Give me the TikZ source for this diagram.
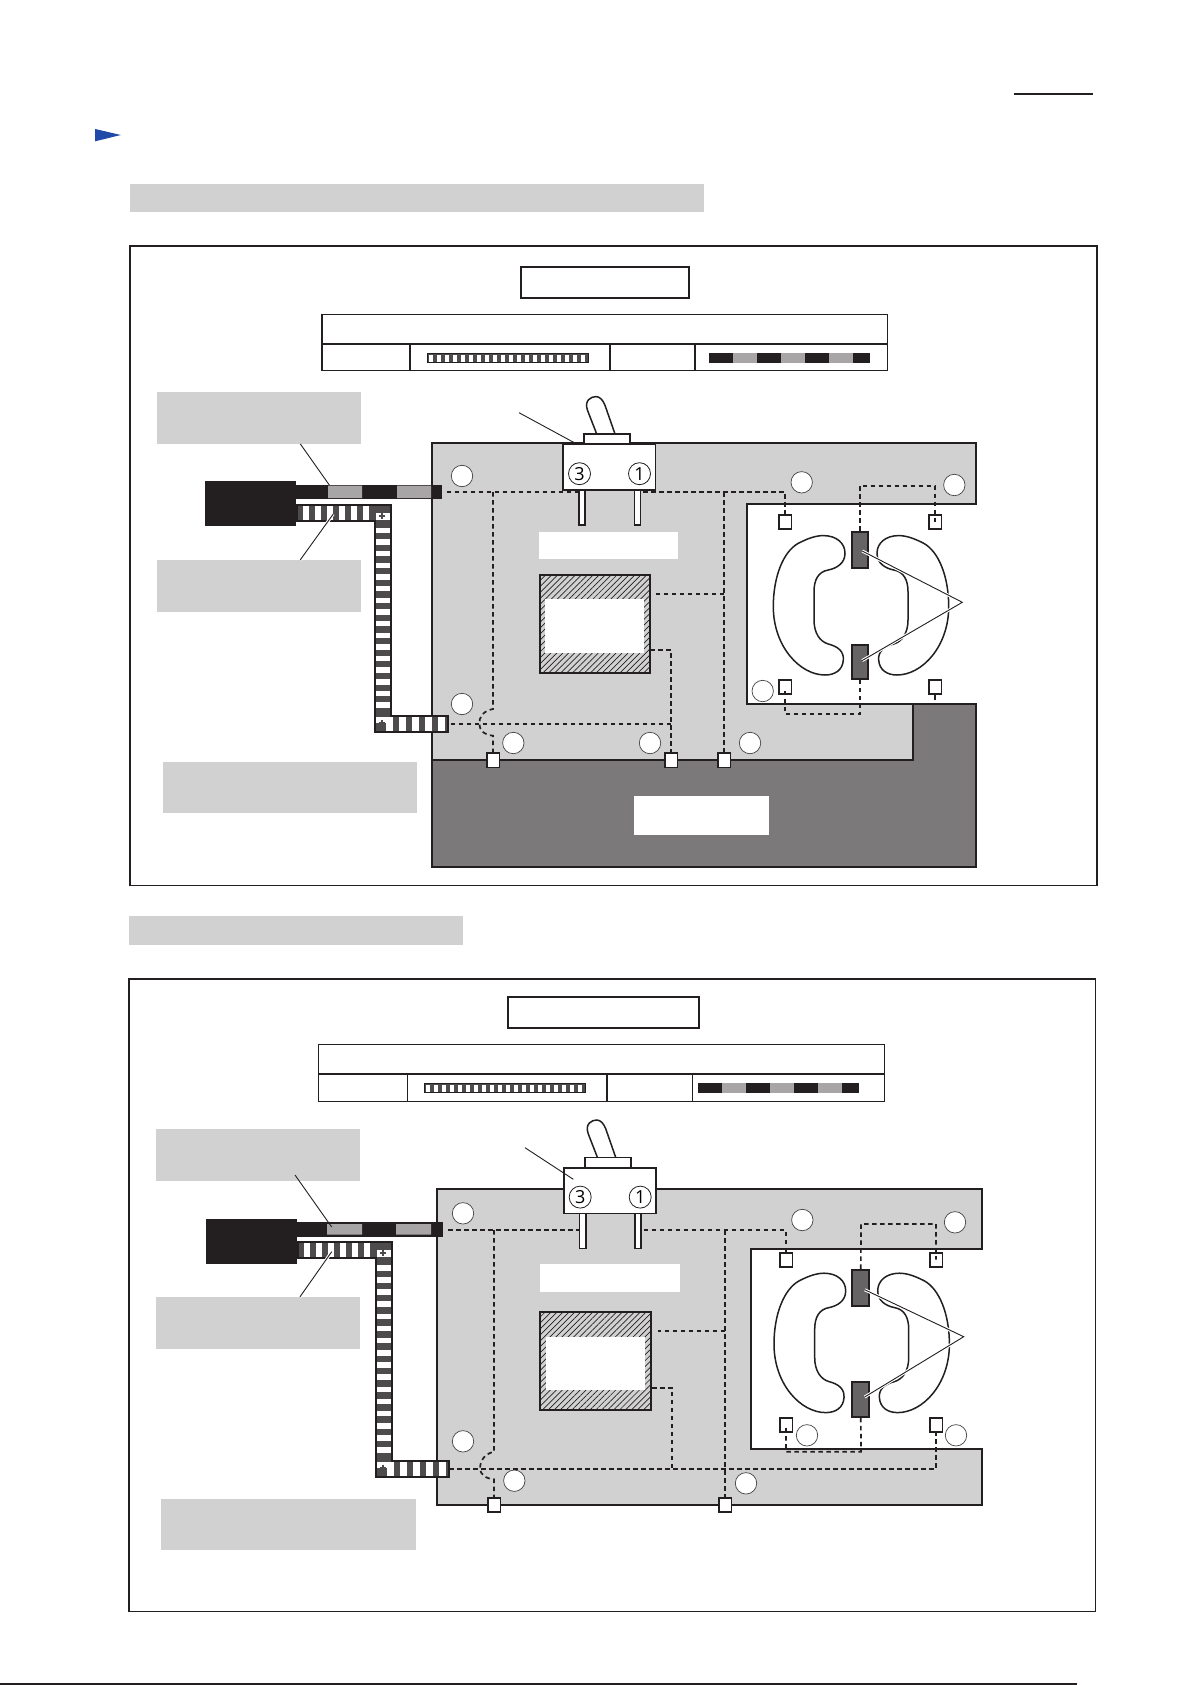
\documentclass[tikz,border=0pt]{standalone}
\usepackage{fontspec}
\setsansfont{Open Sans}
\usetikzlibrary{patterns.meta}

\definecolor{ink}{HTML}{231F20}
\definecolor{boardgray}{HTML}{D1D1D1}
\definecolor{basegray}{HTML}{7B797A}
\definecolor{segmentgray}{HTML}{A7A5A6}
\definecolor{cablegray}{HTML}{4D4B4C}
\definecolor{contactgray}{HTML}{666465}
\definecolor{markblue}{HTML}{1F4AA8}

\tikzset{
    outline/.style={draw=ink,line width=1.7pt,line join=miter},
    band/.style={fill=boardgray,inner sep=0pt},
    blank/.style={fill=white,inner sep=0pt},
    hole/.style={circle,draw=ink!85,fill=white,line width=0.7pt,minimum size=21.4pt,inner sep=0pt},
    terminal/.style={rectangle,outline,fill=white,minimum width=12.7pt,minimum height=14pt,inner sep=0pt},
    contact/.style={rectangle,outline,fill=contactgray,inner sep=0pt},
    wire/.style={draw=ink,line width=1.7pt,dash pattern=on 4.5pt off 3.5pt},
    leader/.style={draw=ink,line width=0.9pt},
    haloleader/.style={leader,preaction={draw=white,line width=3pt}},
    hatchbox/.style={rectangle,outline,inner sep=0pt,preaction={fill=boardgray},
        pattern={Lines[angle=45,distance=4.2pt,line width=0.7pt]},pattern color=ink},
    pinbox/.style={rectangle,draw=ink,line width=1.4pt,fill=white,minimum width=6.2pt,minimum height=35pt,inner sep=0pt},
    digit/.style={circle,draw=ink,line width=0.8pt,fill=white,minimum size=22pt,inner sep=0pt,
        font=\sffamily\fontsize{18}{18}\selectfont},
    switchbody/.pic={
        \node[pinbox] (-pinl) at (19,63.2) {};
        \node[pinbox] (-pinr) at (74.3,63.2) {};
        \draw[outline,fill=white,line width=1.5pt] (33.7,-10.3)--(24.5,-34) .. controls (21,-44) and (28,-47.7) .. (33,-47.7)
            .. controls (37,-47.7) and (40,-44) .. (42,-39)--(52,-10.3);
        \draw[outline,fill=white] (21,0) rectangle (67.3,-10.3);
        \draw[outline,fill=white] (0,0) rectangle (92.4,45.7);
        \node[digit] (-three) at (16.5,29.4) {3};
        \node[digit] (-one) at (76.5,29.4) {1};
    },
    coil/.pic={
        \foreach \side in {1,-1}
            \draw[outline,line width=1.5pt,fill=white,xscale=\side] (-37.7,-69.7) .. controls (-24.3,-69.7) and (-16,-62) .. (-16,-52)
                .. controls (-16,-42) and (-24.3,-37) .. (-32.7,-35.3) .. controls (-42.7,-33.7) and (-47,-25.3) .. (-47,-13.7)
                --(-47,14.7) .. controls (-47,28) and (-41,36.3) .. (-32.7,38.7) .. controls (-22.7,41.3) and (-17,46.3) .. (-17.7,54.7)
                .. controls (-18.3,64.7) and (-26,69.7) .. (-36,69.7) .. controls (-61,69.7) and (-87.7,41.3) .. (-87.7,1.3)
                .. controls (-87.7,-28.7) and (-77.7,-53.7) .. (-62.7,-62) .. controls (-54.3,-66.3) and (-46,-69.7) .. cycle;
    }
}

\newcommand{\tablestripe}[2]{%
    \begin{scope}[shift={(#1,#2)}]
        \fill[cablegray] (0,0) rectangle (161,9.4);
        \foreach \i in {0,...,19}
            \fill[white] (1.5+8*\i,1.2) rectangle ++(4.2,7);
        \draw[ink,line width=0.9pt] (0,0) rectangle (161,9.4);
    \end{scope}}

\newcommand{\stripedcable}[3]{%
    \begin{scope}[shift={(#1,#2)}]
        \pgfmathsetmacro{\vstep}{(#3-52)/15}
        \draw[outline,fill=cablegray] (0,0)--(93.7,0)--(93.7,#3-15.7)--(150.7,#3-15.7)--(150.7,#3)--(78.3,#3)--(78.3,15.7)--(0,15.7)--cycle;
        \foreach \i in {0,...,5}
            \fill[white] (6.3+12*\i,1) rectangle ++(6,13.7);
        \foreach \i in {0,...,15}
            \fill[white] (79.2,22.7+\i*\vstep) rectangle ++(13.6,5.5);
        \foreach \i in {0,...,4}
            \fill[white] (89+13*\i,#3-14.7) rectangle ++(7,13.7);
        \fill[white] (79.2,8) rectangle (92.8,14.7);
        \fill[white] (79.2,#3-14.7) rectangle (92.8,#3-9);
        \draw[cablegray,line width=2pt] (81.5,10.5)--(88,10.5) (84.7,7)--(84.7,14);
        \draw[cablegray,line width=2pt] (81.5,#3-8.5)--(88,#3-8.5) (84.7,#3-12)--(84.7,#3-5);
    \end{scope}}

\begin{document}
\begin{tikzpicture}[x=1pt,y=-1pt]
    \useasboundingbox (0,0) rectangle (1192,1685);

    \draw[ink,line width=2pt] (1014,94)--(1093,94);
    \fill[markblue] (95.2,129)--(120.8,135)--(95.2,141.3)--cycle;
    \fill[boardgray] (130.3,184) rectangle (704.4,212);
    \draw[ink,line width=1.4pt] (130,246) rectangle (1097,885.5);

    \draw[outline] (520.7,266.7) rectangle (689.3,298.3);
    \draw[ink,line width=1.2pt] (322,314.7) rectangle (887.7,370.7);
    \draw[ink,line width=1.5pt] (322,344)--(887.7,344) (410,344)--(410,370.7) (610,344)--(610,370.7) (695,344)--(695,370.7);
    \tablestripe{427}{353.3}
    \fill[ink] (709,353) rectangle (870,363);
    \foreach \a in {732.7,781,829}
        \fill[segmentgray] (\a,353) rectangle ++(24,10);

    \node[band,minimum width=204pt,minimum height=51.4pt] (capA1) at (259,418) {};
    \node[band,minimum width=204pt,minimum height=52pt] (capA2) at (259,586) {};
    \node[band,minimum width=254.5pt,minimum height=50.7pt] (capA3) at (289.75,787.35) {};

    \draw[outline,fill=boardgray] (432,443.3)--(976,443.3)--(976,504)--(747,504)--(747,704)--(912.7,704)--(912.7,760)--(432,760)--cycle;
    \draw[outline,fill=basegray] (432,760)--(912.7,760)--(912.7,704)--(976,704)--(976,866.7)--(432,866.7)--cycle;
    \node[blank,minimum width=135pt,minimum height=39pt] (nameA) at (701.5,815.5) {};
    \node[blank,minimum width=139pt,minimum height=27pt] (coreA) at (608.5,545.5) {};
    \node[hatchbox,minimum width=110pt,minimum height=97.7pt] (hatchA) at (595,623.85) {};
    \node[blank,minimum width=99pt,minimum height=53.7pt] at (594.5,626.15) {};

    \foreach \n/\p in {a/{462,476},b/{801.7,482.3},c/{954.3,485},d/{762.7,691},e/{750,743},f/{462,704},g/{513.3,743},h/{650,743}}
        \node[hole] (holeA\n) at (\p) {};

    \fill[ink] (205,481) rectangle (296,526);
    \fill[ink] (296,485) rectangle (442,498.7);
    \fill[segmentgray] (328,485.7) rectangle (362,498) (397,485.7) rectangle (431,498);
    \stripedcable{297}{505}{226.7}

    \pic (swA) at (563,444.3) {switchbody};
    \pic at (861,605.3) {coil};

    \node[terminal] (tmA1) at (785,522.3) {};
    \node[terminal] (tmA2) at (935,522.3) {};
    \node[terminal] (tmA3) at (785,687.3) {};
    \node[terminal] (tmA4) at (935,687.3) {};
    \node[terminal,minimum height=14.7pt] (tmA5) at (493,760) {};
    \node[terminal,minimum height=14.7pt] (tmA6) at (671,760) {};
    \node[terminal,minimum height=14.7pt] (tmA7) at (724,760) {};
    \node[contact,minimum width=16.6pt,minimum height=36.3pt] (ctA1) at (860,549.85) {};
    \node[contact,minimum width=16.6pt,minimum height=34.3pt] (ctA2) at (860,661.85) {};

    \coordinate (jA1) at (493,492);
    \coordinate (jA2) at (724,492);
    \coordinate (jA3) at (671,724);
    \coordinate (jA4) at (671,649.7);
    \coordinate (jA5) at (724,593.7);
    \draw[wire] (446.7,492)--(jA1)--(swA-pinl.west |- jA1);
    \draw[wire,shorten <=2pt] (swA-pinr.east |- jA2)--(jA2)--(785,492)--(tmA1.north);
    \draw[wire] (jA1)--(493,709) .. controls (483,711) and (479,717) .. (479.3,724) .. controls (479.5,730) and (484,735) .. (493,735.7)--(tmA5.north);
    \draw[wire] (450.7,724)--(jA3);
    \draw[wire] (jA4 -| hatchA.east)--(jA4)--(jA3)--(tmA6.north);
    \draw[wire] (jA2)--(jA5)--(tmA7.north);
    \draw[wire,shorten >=6pt] (jA5)--(jA5 -| hatchA.east);
    \draw[wire] (ctA1.north)--(860,485.7)--(935,485.7)--(tmA2.center);
    \draw[wire] (ctA2.south)--(860,714)--(785,714)--(tmA3.center);
    \draw[wire] (tmA4.south)--(935,704);

    \coordinate (apexA) at (962.3,602.3);
    \draw[haloleader,shorten <=2.5pt,shorten >=2.5pt] (ctA1.center)--(apexA)--(ctA2.center);
    \coordinate (tipA1) at (329.3,485);
    \coordinate (tipA2) at (333.3,514);
    \coordinate (tipA3) at (576.7,444);
    \draw[leader] (capA1.south -| 300.3,0)--(tipA1);
    \draw[haloleader] (capA2.north -| 300.3,0)--(tipA2);
    \draw[leader] (519,412.7)--(tipA3);

    \fill[boardgray] (129,916) rectangle (463,945);
    \draw[ink,line width=1.4pt] (129,979) rectangle (1095.7,1611.7);

    \draw[outline] (507.7,996.7) rectangle (699.3,1028.3);
    \draw[ink,line width=1.2pt] (318.7,1044.7) rectangle (884.7,1101.3);
    \draw[ink,line width=1.5pt] (318.7,1074)--(884.7,1074) (407.3,1074)--(407.3,1101.3) (607,1074)--(607,1101.3) (692.3,1074)--(692.3,1101.3);
    \tablestripe{424}{1083.3}
    \fill[ink] (698,1083) rectangle (859,1093);
    \foreach \a in {722,770,818}
        \fill[segmentgray] (\a,1083) rectangle ++(24,10);

    \node[band,minimum width=204pt,minimum height=52pt] (capB1) at (258,1155) {};
    \node[band,minimum width=204pt,minimum height=52pt] (capB2) at (258,1323) {};
    \node[band,minimum width=255pt,minimum height=51pt] (capB3) at (288.5,1524.5) {};

    \draw[outline,fill=boardgray] (436.7,1189)--(981.7,1189)--(981.7,1249)--(750.7,1249)--(750.7,1449)--(981.7,1449)--(981.7,1505)--(436.7,1505)--cycle;
    \node[blank,minimum width=140pt,minimum height=28pt] (coreB) at (610,1278) {};
    \node[hatchbox,minimum width=111.3pt,minimum height=98.3pt] (hatchB) at (595.65,1360.85) {};
    \node[blank,minimum width=99pt,minimum height=53pt] at (595.5,1363.5) {};

    \foreach \n/\p in {a/{463,1213.3},b/{802.3,1220},c/{955,1222.3},d/{807,1435.3},e/{956,1435.3},f/{463,1441.3},g/{514.3,1480.7},h/{746,1483.3}}
        \node[hole] (holeB\n) at (\p) {};

    \fill[ink] (206,1219) rectangle (297,1263.7);
    \fill[ink] (297,1222) rectangle (443,1236.7);
    \fill[segmentgray] (327,1224) rectangle (362,1234.7) (396,1224) rectangle (431,1234.7);
    \stripedcable{298}{1242.3}{234.4}

    \pic (swB) at (563.7,1167.7) {switchbody};
    \pic at (861.7,1342.9) {coil};

    \node[terminal] (tmB1) at (786,1259.7) {};
    \node[terminal] (tmB2) at (936,1259.7) {};
    \node[terminal] (tmB3) at (786,1424.7) {};
    \node[terminal] (tmB4) at (936,1424.7) {};
    \node[terminal] (tmB5) at (494,1505.3) {};
    \node[terminal] (tmB6) at (725,1505.3) {};
    \node[contact,minimum width=17pt,minimum height=36.3pt] (ctB1) at (860.8,1287.85) {};
    \node[contact,minimum width=17pt,minimum height=35.3pt] (ctB2) at (860.8,1399.35) {};

    \coordinate (jB1) at (494,1230);
    \coordinate (jB2) at (725,1230);
    \coordinate (jB3) at (672,1469);
    \coordinate (jB4) at (672,1387.7);
    \coordinate (jB5) at (725,1330.7);
    \draw[wire] (448.3,1230)--(jB1)--(swB-pinl.west |- jB1);
    \draw[wire,shorten <=2pt] (swB-pinr.east |- jB2)--(jB2)--(786,1230)--(tmB1.north);
    \draw[wire] (jB1)--(494,1451.7) .. controls (484,1454) and (480,1461) .. (480,1469) .. controls (480.5,1474) and (485,1478.5) .. (494,1479.3)--(tmB5.north);
    \draw[wire] (449.3,1469)--(jB3)--(936,1469)--(tmB4.south);
    \draw[wire] (jB4 -| hatchB.east)--(jB4)--(jB3);
    \draw[wire] (jB2)--(jB5)--(tmB6.north);
    \draw[wire,shorten >=6pt] (jB5)--(jB5 -| hatchB.east);
    \draw[wire] (ctB1.north)--(861,1224)--(936,1224)--(tmB2.center);
    \draw[wire] (ctB2.south)--(861,1451.7)--(786,1451.7)--(tmB3.center);

    \coordinate (apexB) at (963.7,1336.7);
    \draw[haloleader,shorten <=4.5pt,shorten >=4.5pt] (ctB1.center)--(apexB)--(ctB2.center);
    \coordinate (tipB1) at (331.7,1227);
    \coordinate (tipB2) at (331.7,1251.7);
    \coordinate (tipB3) at (573.3,1179.3);
    \draw[leader] (295,1175)--(tipB1);
    \draw[haloleader] (capB2.north -| 300,0)--(tipB2);
    \draw[leader] (525,1147.7)--(tipB3);

    \draw[ink,line width=2pt] (0,1684)--(1077,1684);
\end{tikzpicture}
\end{document}
